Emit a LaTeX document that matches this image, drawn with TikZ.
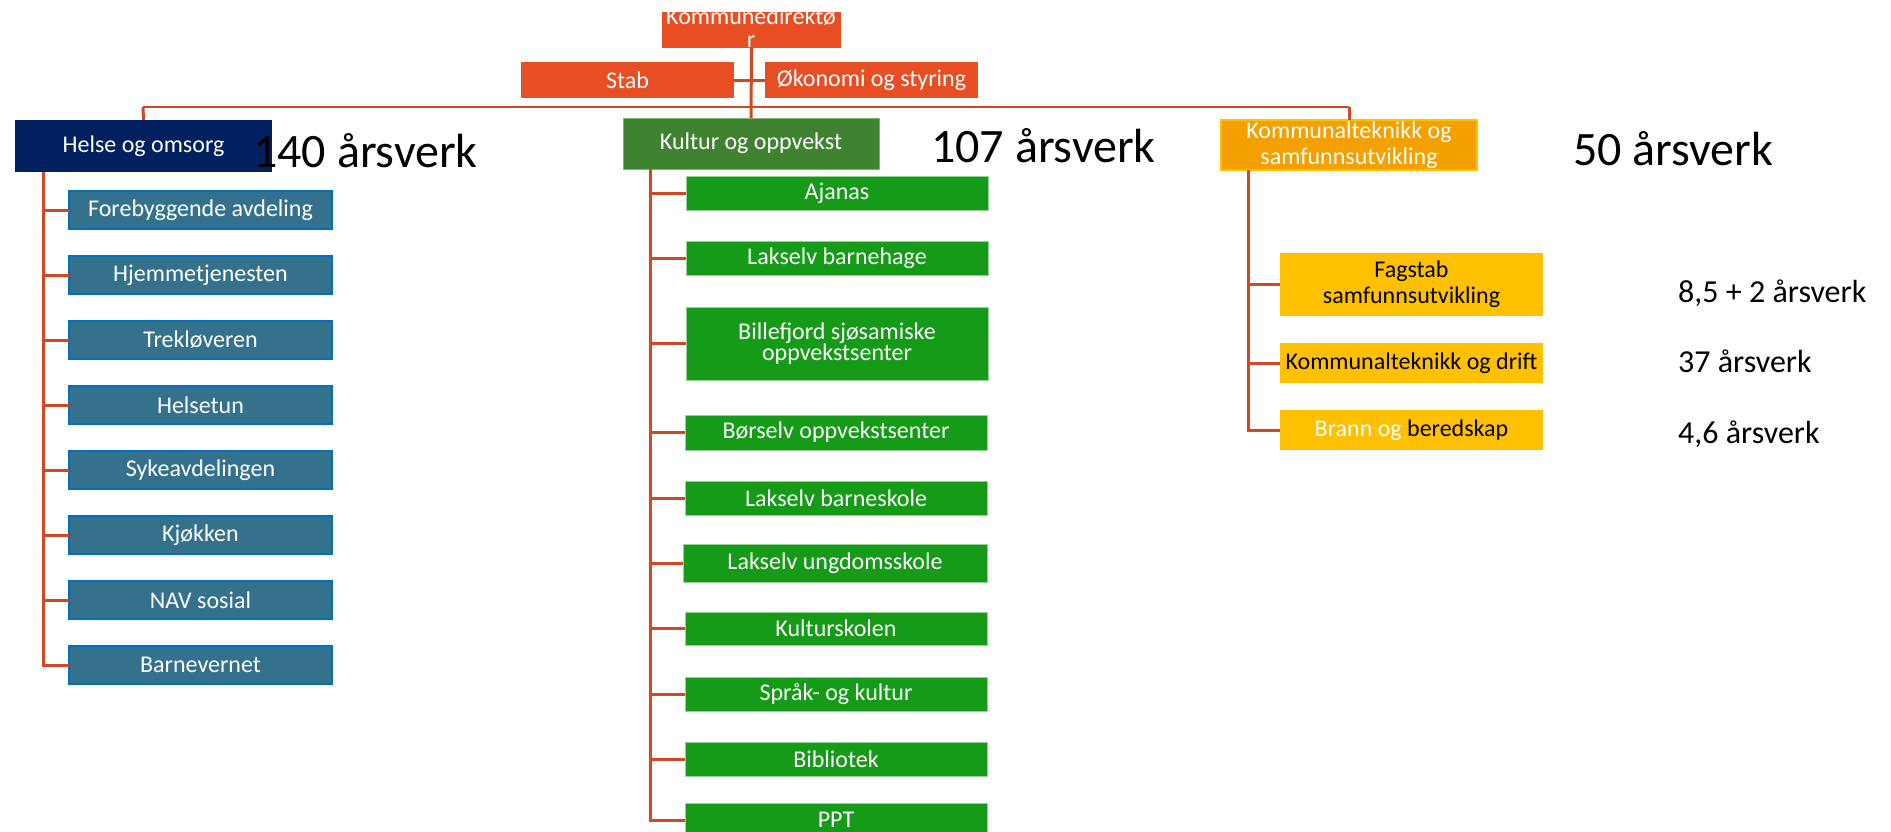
\documentclass[tikz,border=0pt]{standalone}
\usepackage{fontspec}
\setmainfont{Carlito}
\definecolor{linecol}{RGB}{208,72,36}
\definecolor{orangebox}{RGB}{232,78,36}
\definecolor{navy}{RGB}{0,32,96}
\definecolor{helsefill}{RGB}{52,113,140}
\definecolor{helseborder}{RGB}{0,112,192}
\definecolor{kulturhead}{RGB}{63,130,48}
\definecolor{kulturborder}{RGB}{130,180,110}
\definecolor{greenfill}{RGB}{21,155,24}
\definecolor{greenborder}{RGB}{150,210,150}
\definecolor{kommhead}{RGB}{244,160,0}
\definecolor{yellowbox}{RGB}{255,192,0}
\tikzset{
  box/.style={inner sep=0pt, outer sep=0pt, anchor=north west, align=center, text=white,
    font=\fontsize{24}{24}\selectfont},
  topbox/.style={box, fill=orangebox},
  helsehead/.style={box, fill=navy},
  helsesub/.style={box, fill=helsefill, draw=helseborder, line width=2.5pt, minimum width=263pt, minimum height=38pt},
  kulthead/.style={box, fill=kulturhead, draw=kulturborder, line width=1pt},
  kultsub/.style={box, fill=greenfill, draw=greenborder, line width=1pt, minimum width=302pt},
  kommheadst/.style={box, fill=kommhead, draw=yellowbox, line width=2pt},
  kommsub/.style={box, fill=yellowbox, minimum width=263pt, text=black, font=\fontsize{24}{26}\selectfont},
  conn/.style={draw=linecol, line width=3pt},
  bigtxt/.style={anchor=base west, inner sep=0pt, font=\fontsize{48}{48}\selectfont},
  smalltxt/.style={anchor=base west, inner sep=0pt, font=\fontsize{32}{32}\selectfont},
}
\begin{document}
\begin{tikzpicture}[x=1pt,y=-1pt]
\useasboundingbox (0,0) rectangle (1891,831);
% top
\node[topbox, minimum width=179pt, minimum height=36pt] (kd) at (662,12) {};
\node[inner sep=0pt, text=white, font=\fontsize{24}{24}\selectfont, anchor=base] (kdt1) at (751,24) {Kommunedirektø};
\node[inner sep=0pt, text=white, font=\fontsize{24}{24}\selectfont, anchor=base] (kdt2) at (751,47) {r};
\node[topbox, minimum width=213pt, minimum height=36pt] (stab) at (521,62) {Stab};
\node[topbox, minimum width=213pt, minimum height=36pt] (oko) at (765,62) {Økonomi og styring};
% heads
\node[helsehead, minimum width=257pt, minimum height=52pt] (helse) at (15,120) {Helse og omsorg};
\node[kulthead, minimum width=256pt, minimum height=51pt] (kultur) at (623,118) {Kultur og oppvekst};
\node[kommheadst, minimum width=256pt, minimum height=50pt, font=\fontsize{24}{26}\selectfont] (komm) at (1221,120) {Kommunalteknikk og\\samfunnsutvikling};
% connectors top
\coordinate (hl) at (143,107);
\coordinate (hr) at (1349,107);
\draw[draw=linecol, line width=2.5pt] (hl) -- (hr);
\draw[conn] (kd.south) -- (kultur.north);
\draw[conn] (stab.east) -- (oko.west);
\draw[conn] (hl) -- (helse.north);
\draw[conn] (hr) -- (hr |- komm.north);
% helse subs
\node[helsesub] (h1) at (69,191) {Forebyggende avdeling};
\node[helsesub] (h2) at (69,256) {Hjemmetjenesten};
\node[helsesub] (h3) at (69,321) {Trekløveren};
\node[helsesub] (h4) at (69,386) {Helsetun};
\node[helsesub] (h5) at (69,451) {Sykeavdelingen};
\node[helsesub] (h6) at (69,516) {Kjøkken};
\node[helsesub] (h7) at (69,581) {NAV sosial};
\node[helsesub] (h8) at (69,646) {Barnevernet};
\coordinate (hbus) at (43,172);
\draw[conn] (hbus) |- (h8.west);
\foreach \n in {h1,h2,h3,h4,h5,h6,h7}{\draw[conn] (hbus |- \n.west) -- (\n.west);}
% kultur subs
\node[kultsub, minimum height=34pt] (k1) at (686,176) {Ajanas};
\node[kultsub, minimum height=34pt] (k2) at (686,241) {Lakselv barnehage};
\node[kultsub, minimum height=73pt, font=\fontsize{24}{21}\selectfont] (k3) at (686,307) {Billefjord sjøsamiske\\oppvekstsenter};
\node[kultsub, minimum height=35pt] (k4) at (685,415) {Børselv oppvekstsenter};
\node[kultsub, minimum height=34pt] (k5) at (685,481) {Lakselv barneskole};
\node[kultsub, minimum height=38pt, minimum width=304pt] (k6) at (683,544) {Lakselv ungdomsskole};
\node[kultsub, minimum height=33pt] (k7) at (685,612) {Kulturskolen};
\node[kultsub, minimum height=34pt] (k8) at (685,677) {Språk- og kultur};
\node[kultsub, minimum height=34pt] (k9) at (685,742) {Bibliotek};
\node[kultsub, minimum height=34pt] (k10) at (685,803) {PPT};
\coordinate (kbus) at (650,169);
\draw[conn] (kbus) |- (k10.west);
\foreach \n in {k1,k2,k3,k4,k5,k6,k7,k8,k9}{\draw[conn] (kbus |- \n.west) -- (\n.west);}
% komm subs
\node[kommsub, minimum height=63pt] (c1) at (1280,253) {Fagstab\\samfunnsutvikling};
\node[kommsub, minimum height=40pt] (c2) at (1280,343) {Kommunalteknikk og drift};
\node[kommsub, minimum height=40pt] (c3) at (1280,410) {\textcolor{white}{Brann og} beredskap};
\coordinate (cbus) at (1248,170);
\draw[conn] (cbus) |- (c3.west);
\foreach \n in {c1,c2}{\draw[conn] (cbus |- \n.west) -- (\n.west);}
% labels
\node[bigtxt] (l140) at (253,167) {140 årsverk};
\node[bigtxt] (l107) at (931,162) {107 årsverk};
\node[bigtxt] (l50) at (1573,165) {50 årsverk};
\node[smalltxt] (l85) at (1678,302) {8,5 + 2 årsverk};
\node[smalltxt] (l37) at (1678,372) {37 årsverk};
\node[smalltxt] (l46) at (1678,443) {4,6 årsverk};
\end{tikzpicture}
\end{document}
